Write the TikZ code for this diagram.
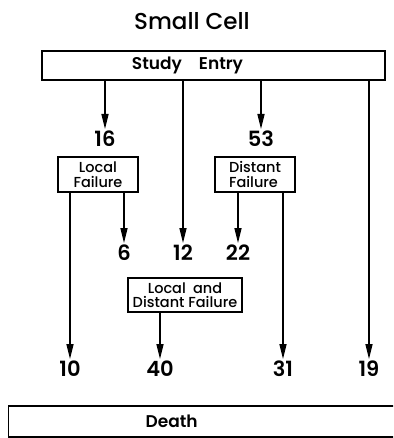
\documentclass[tikz,border=0pt]{standalone}
\usepackage{fontspec}
\setmainfont{Poppins}[UprightFont=* Medium, BoldFont=* SemiBold]
\usetikzlibrary{arrows.meta, positioning}

\begin{document}
\begin{tikzpicture}[
        x=1pt, y=-1pt,
        box/.style={draw, rectangle, line width=1.2pt, inner sep=0pt, align=center},
        small/.style={font=\fontsize{14.5}{14.5}\selectfont},
        count/.style={font=\fontsize{21}{21}\selectfont\bfseries, inner sep=2pt},
        flow/.style={-{Triangle[length=15pt, width=7pt]}, line width=1.4pt},
        >=Stealth
    ]
    \useasboundingbox (0,0) rectangle (393,438);
    \clip (0,0) rectangle (393,438);

    % Header
    \node[font=\fontsize{23}{23}\selectfont] (title) at (192,21) {Small Cell};
    \node[box, minimum width=343pt, minimum height=29pt,
        label={[xshift=-26pt, font=\fontsize{17}{17}\selectfont\bfseries]center:Study\quad Entry}] (entry) at (213.5,65.5) {};

    % First failure
    \node[box, small, minimum width=80pt, minimum height=35pt] (local) at (98,174.5) {Local\\Failure};
    \node[box, small, minimum width=80pt, minimum height=35pt, align=left] (distant) at (255,174.5) {Distant\\Failure};
    \node[box, small, minimum width=114pt, minimum height=34pt] (both) at (185,295) {Local\enspace and\\Distant Failure};

    % Counts
    \node[count, anchor=north] (n16) at (105,129) {16};
    \node[count, anchor=north] (n53) at (261,129) {53};
    \node[count, anchor=north] (n6) at (124,243) {6};
    \node[count, anchor=north] (n12) at (183,243) {12};
    \node[count, anchor=north] (n22) at (238,243) {22};
    \node[count, anchor=north] (n10) at (70,359) {10};
    \node[count, anchor=north] (n40) at (160,359) {40};
    \node[count, anchor=north] (n31) at (283,359) {31};
    \node[count, anchor=north] (n19) at (369,359) {19};

    % Death
    \node[box, minimum width=420pt, minimum height=31pt, anchor=west,
        label={[xshift=-47pt, font=\fontsize{17}{17}\selectfont\bfseries]center:Death}] (death) at (8,421.5) {};

    % Arrows from study entry
    \draw[flow] (entry.south -| n16.north) -- (n16.north);
    \draw[flow] (entry.south -| n12.north) -- (n12.north);
    \draw[flow] (entry.south -| n53.north) -- (n53.north);
    \draw[flow] (entry.south -| n19.north) -- (n19.north);

    % Arrows from failures
    \draw[flow] (local.south -| n10.north) -- (n10.north);
    \draw[flow] (local.south -| n6.north) -- (n6.north);
    \draw[flow] (distant.south -| n22.north) -- (n22.north);
    \draw[flow] (distant.south -| n31.north) -- (n31.north);
    \draw[flow] (both.south -| n40.north) -- (n40.north);
\end{tikzpicture}
\end{document}
